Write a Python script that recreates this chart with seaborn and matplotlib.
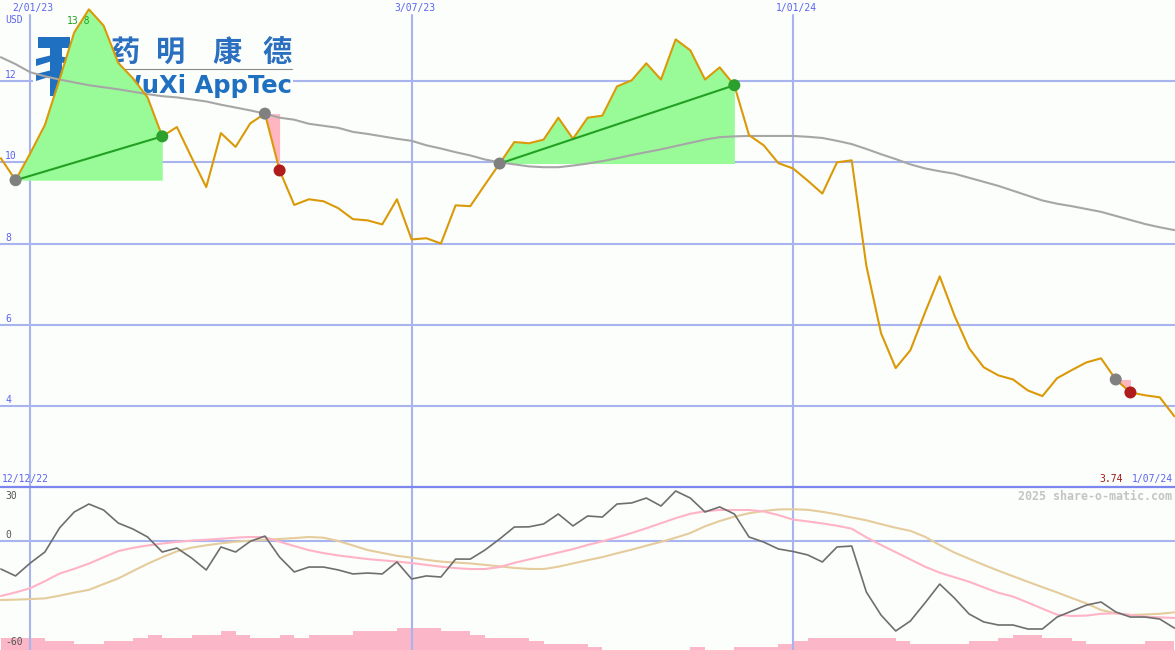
import numpy as np
import pandas as pd
import matplotlib
matplotlib.use('Agg')
import matplotlib.pyplot as plt
from matplotlib.patches import Rectangle, Polygon
import seaborn as sns

# ==========================================
# Data: weekly points, 19 Dec 2022 .. 1 Jul 2024
# ==========================================
price = [10.10, 9.56, 10.22, 10.92, 12.05, 13.20, 13.77, 13.37, 12.45, 12.07,
         11.60, 10.64, 10.87, 10.12, 9.39, 10.72, 10.38, 10.96, 11.20, 9.80,
         8.95, 9.09, 9.04, 8.87, 8.60, 8.57, 8.47, 9.09, 8.10, 8.13,
         8.00, 8.94, 8.92, 9.45, 9.97, 10.50, 10.47, 10.56, 11.10, 10.58,
         11.10, 11.15, 11.87, 12.02, 12.44, 12.04, 13.03, 12.76, 12.04, 12.34,
         11.90, 10.67, 10.42, 9.98, 9.85, 9.55, 9.23, 10.00, 10.05, 7.45,
         5.79, 4.93, 5.37, 6.30, 7.19, 6.23, 5.42, 4.95, 4.75, 4.65,
         4.38, 4.24, 4.68, 4.88, 5.07, 5.17, 4.65, 4.33, 4.26, 4.21,
         3.74]

ma_line = [12.59, 12.42, 12.22, 12.12, 12.04, 11.97, 11.90, 11.85, 11.80, 11.74,
           11.68, 11.63, 11.60, 11.55, 11.50, 11.42, 11.35, 11.28, 11.20, 11.10,
           11.05, 10.95, 10.90, 10.85, 10.75, 10.70, 10.64, 10.58, 10.53, 10.42,
           10.34, 10.25, 10.17, 10.07, 10.00, 9.95, 9.90, 9.88, 9.88, 9.92,
           9.97, 10.03, 10.10, 10.18, 10.25, 10.32, 10.40, 10.48, 10.56, 10.62,
           10.64, 10.65, 10.65, 10.65, 10.65, 10.63, 10.60, 10.53, 10.45, 10.33,
           10.20, 10.08, 9.95, 9.85, 9.78, 9.72, 9.62, 9.52, 9.42, 9.30,
           9.18, 9.06, 8.98, 8.92, 8.85, 8.78, 8.68, 8.58, 8.48, 8.40,
           8.33]

momentum = [-15.3, -19.1, -12.0, -5.9, 7.4, 16.2, 20.6, 17.3, 10.1, 6.8,
            2.4, -5.9, -3.7, -9.2, -15.8, -3.1, -5.9, 0.0, 2.9, -8.7,
            -16.9, -14.2, -14.2, -15.8, -18.0, -17.5, -18.0, -11.4, -20.8, -19.1,
            -19.7, -9.8, -9.8, -4.8, 1.3, 7.9, 8.0, 9.6, 15.1, 8.5,
            14.0, 13.4, 20.6, 21.2, 23.9, 19.5, 27.8, 23.9, 16.2, 19.0,
            15.1, 2.4, -0.4, -4.2, -5.6, -7.5, -11.4, -3.1, -2.6, -28.0,
            -40.7, -49.5, -44.0, -34.0, -23.6, -31.3, -40.1, -44.5, -46.2, -46.2,
            -48.4, -48.4, -41.8, -38.5, -35.2, -33.5, -39.0, -41.8, -41.8, -42.9,
            -47.9]

mom_fast = [-30.2, -28.2, -25.9, -22.0, -17.8, -15.2, -12.3, -8.8, -5.4, -3.6,
            -2.3, -1.2, -0.3, 0.4, 0.9, 1.4, 2.0, 2.4, 2.3, -0.2,
            -2.6, -4.9, -6.5, -7.8, -8.8, -9.8, -10.5, -11.2, -12.0, -13.0,
            -14.0, -14.8, -15.3, -15.3, -14.2, -11.9, -10.0, -8.1, -6.2, -4.3,
            -2.0, 0.0, 2.2, 4.6, 7.2, 10.0, 12.8, 15.2, 16.6, 17.3,
            17.3, 17.3, 16.5, 14.5, 12.0, 11.0, 9.9, 8.6, 7.0, 2.2,
            -2.0, -6.0, -10.0, -14.0, -17.3, -19.8, -22.3, -25.4, -28.4, -30.5,
            -33.8, -37.2, -40.5, -41.2, -41.0, -40.0, -39.7, -40.6, -41.6, -42.0,
            -42.3]

mom_slow = [-32.4, -32.2, -31.9, -31.5, -30.0, -28.3, -26.8, -23.6, -20.5, -16.4,
            -12.4, -8.8, -5.5, -3.5, -2.2, -1.1, -0.2, 0.3, 0.8, 1.3,
            1.8, 2.4, 2.0, 0.2, -2.3, -4.8, -6.4, -8.0, -9.0, -10.2,
            -11.2, -11.7, -12.2, -13.0, -13.8, -14.7, -15.2, -15.3, -14.0, -12.2,
            -10.4, -8.7, -6.6, -4.6, -2.4, -0.3, 2.0, 4.6, 8.3, 11.2,
            13.6, 15.5, 16.8, 17.6, 17.7, 17.4, 16.3, 14.9, 13.2, 11.6,
            9.5, 7.5, 5.8, 2.5, -2.0, -6.2, -9.6, -13.0, -16.2, -19.3,
            -22.3, -25.3, -28.2, -31.3, -34.3, -37.9, -39.8, -40.7, -40.4, -40.0,
            -39.2]

# volume, arbitrary units (one bar per week)
volume = [12, 12, 12, 9, 9, 6, 6, 9, 9, 12, 15, 12, 12, 15, 15, 19, 15, 12, 12, 15,
          12, 15, 15, 15, 19, 19, 19, 22, 22, 22, 19, 19, 15, 12, 12, 12, 9, 6, 6, 6,
          3, 0, 0, 0, 0, 0, 0, 3, 0, 0, 3, 3, 3, 6, 9, 12, 12, 12, 12, 12,
          12, 9, 6, 6, 6, 6, 9, 9, 12, 15, 15, 12, 12, 9, 6, 6, 6, 6, 9, 9]

grid_weeks = [2, 28, 54]
grid_dates = ['2/01/23', '3/07/23', '1/01/24']
price_levels = [4, 6, 8, 10, 12]
# (entry week, exit week) of the signalled trades
trades = [(1, 11), (18, 19), (34, 50), (76, 77)]

weeks = np.arange(len(price))
df = pd.DataFrame({'week': weeks, 'price': price, 'ma': ma_line,
                   'mom': momentum, 'fast': mom_fast, 'slow': mom_slow})
vol_df = pd.DataFrame({'week': weeks[:-1], 'volume': volume})

# ==========================================
# Style
# ==========================================
sns.set_theme(style='white')
plt.rcParams['font.family'] = ['DejaVu Sans Mono', 'DejaVu Sans']

BG = '#fcfefb'
GRID = '#a8b4f0'
LBL = '#5a64f0'
W, H = 1175, 650
SPLIT = 487

def fx(px):
    return px / W

def fy(py):
    return 1 - py / H

fig = plt.figure(figsize=(W / 100, H / 100), dpi=100, facecolor=BG)
ax = fig.add_axes([0, 1 - SPLIT / H, 1, SPLIT / H])
ax2 = fig.add_axes([0, 0, 1, 1 - SPLIT / H])
for a in (ax, ax2):
    a.set_facecolor(BG)
    a.set_xlim(-0.06, 80.04)
    a.axis('off')
ax.set_ylim(2.0, 14.0)
ax2.set_ylim(-60, 30)

# ==========================================
# Top panel: price
# ==========================================
for lv in price_levels:
    ax.axhline(lv, color=GRID, lw=1.5, zorder=1)
    ax.annotate(str(lv), xy=(0, lv), xycoords=('axes fraction', 'data'),
                xytext=(5, 6), textcoords='offset pixels', ha='left', va='center',
                fontsize=7, color=LBL)
for wk, lab in zip(grid_weeks, grid_dates):
    ax.axvline(wk, ymax=1 - 15 / SPLIT, color=GRID, lw=1.5, zorder=1)
    ax.annotate(lab, xy=(wk, 1), xycoords=('data', 'axes fraction'),
                xytext=(3, -8), textcoords='offset pixels', ha='center', va='center',
                fontsize=7, color=LBL)
    ax2.axvline(wk, color=GRID, lw=1.5, zorder=2)

# logo (sits under the chart marks)
ax.add_patch(Rectangle((fx(33), fy(100)), 260 / W, 67 / H, transform=fig.transFigure,
                       facecolor=BG, edgecolor='none', zorder=2))
logo_blue = '#1f70c0'
ax.add_patch(Rectangle((fx(38), fy(48)), 32 / W, 11 / H, transform=fig.transFigure,
                       facecolor=logo_blue, edgecolor='none', zorder=3))
ax.add_patch(Rectangle((fx(50), fy(96)), 12 / W, 48 / H, transform=fig.transFigure,
                       facecolor=logo_blue, edgecolor='none', zorder=3))
for top in (55, 70):
    ax.add_patch(Polygon([(fx(36), fy(top + 4)), (fx(52), fy(top)), (fx(70), fy(top + 3)),
                          (fx(70), fy(top + 9)), (fx(52), fy(top + 6)), (fx(36), fy(top + 11))],
                         closed=True, transform=fig.transFigure,
                         facecolor=logo_blue, edgecolor='none', zorder=3))
for ch, cx in zip('药明康德', [125, 171, 227, 277]):
    ax.text(fx(cx), fy(52), ch, transform=fig.transFigure, ha='center', va='center',
            fontsize=21, fontweight='bold', color='#2a6fc0',
            family=['Noto Sans CJK SC', 'DejaVu Sans'], zorder=3)
ax.plot([fx(112), fx(292)], [fy(69), fy(69)], transform=fig.transFigure,
        color='#8a8a8a', lw=0.8, zorder=3)
ax.text(fx(292), fy(93), 'WuXi AppTec', transform=fig.transFigure, ha='right',
        va='baseline', fontsize=17.5, fontweight='bold', color=logo_blue,
        family=['DejaVu Sans'], zorder=3)

# trade fills and markers
for a, b in trades:
    seg = df.iloc[a:b + 1]
    base = price[a]
    gain = price[b] > base
    ax.fill_between(seg['week'], seg['price'], base,
                    color='#98fb98' if gain else '#ffb6c1', lw=0, zorder=4)

ax.annotate(f'{max(price):.1f}', xy=(int(np.argmax(price)), max(price)),
            xytext=(1, -12), textcoords='offset pixels', ha='right', va='center',
            fontsize=7, color='#20a020', zorder=4.5)

sns.lineplot(data=df, x='week', y='ma', ax=ax, color='#a6a6a6', lw=1.5, zorder=5)
sns.lineplot(data=df, x='week', y='price', ax=ax, color='#da9a08', lw=1.5, zorder=6)

for a, b in trades:
    gain = price[b] > price[a]
    if gain:
        ax.plot([a, b], [price[a], price[b]], color='#22a022', lw=1.5, zorder=7)
    ax.scatter([a], [price[a]], s=75, color='#808080', edgecolor='none', zorder=8)
    ax.scatter([b], [price[b]], s=75, color='#2ca02c' if gain else '#b01c1c',
               edgecolor='none', zorder=8)

fig.text(fx(5), fy(20), 'USD', ha='left', va='center', fontsize=7, color=LBL)
fig.text(fx(2), fy(479), '12/12/22', ha='left', va='center', fontsize=7, color=LBL)
fig.text(fx(1123), fy(479), f'{price[-1]:.2f}', ha='right', va='center', fontsize=7,
         color='#a01818')
fig.text(fx(1173), fy(479), '1/07/24', ha='right', va='center', fontsize=7, color=LBL)

# ==========================================
# Bottom panel: momentum + volume
# ==========================================
axv = ax2.twinx()
axv.axis('off')
axv.set_ylim(0, 163)
axv.set_xlim(-0.06, 80.04)
axv.bar(vol_df['week'], vol_df['volume'], width=1.0, align='edge',
        color='#fbb6c8', lw=0, zorder=1)
ax2.set_zorder(axv.get_zorder() + 1)
ax2.patch.set_visible(False)
axv.patch.set_facecolor(BG)
axv.patch.set_visible(True)

ax2.axhline(0, color=GRID, lw=1.5, zorder=2)
ax2.axhline(30, color='#7b87ee', lw=1.6, zorder=2, clip_on=False)
sns.lineplot(data=df, x='week', y='slow', ax=ax2, color='#e5cc9c', lw=1.5, zorder=3)
sns.lineplot(data=df, x='week', y='fast', ax=ax2, color='#ffb3c6', lw=1.5, zorder=4)
sns.lineplot(data=df, x='week', y='mom', ax=ax2, color='#6e6e6e', lw=1.2, zorder=5)

for txt, py in (('30', 496), ('0', 535), ('-60', 642)):
    fig.text(fx(5), fy(py), txt, ha='left', va='center', fontsize=7, color='#555555')
fig.text(fx(1172), fy(496), '2025 share-o-matic.com', ha='right', va='center',
         fontsize=8.4, fontweight='bold', color='#c4c4c4')

for a in (ax, ax2):
    a.set_xlabel('')
    a.set_ylabel('')

fig.savefig('out.png', dpi=100, facecolor=BG)
